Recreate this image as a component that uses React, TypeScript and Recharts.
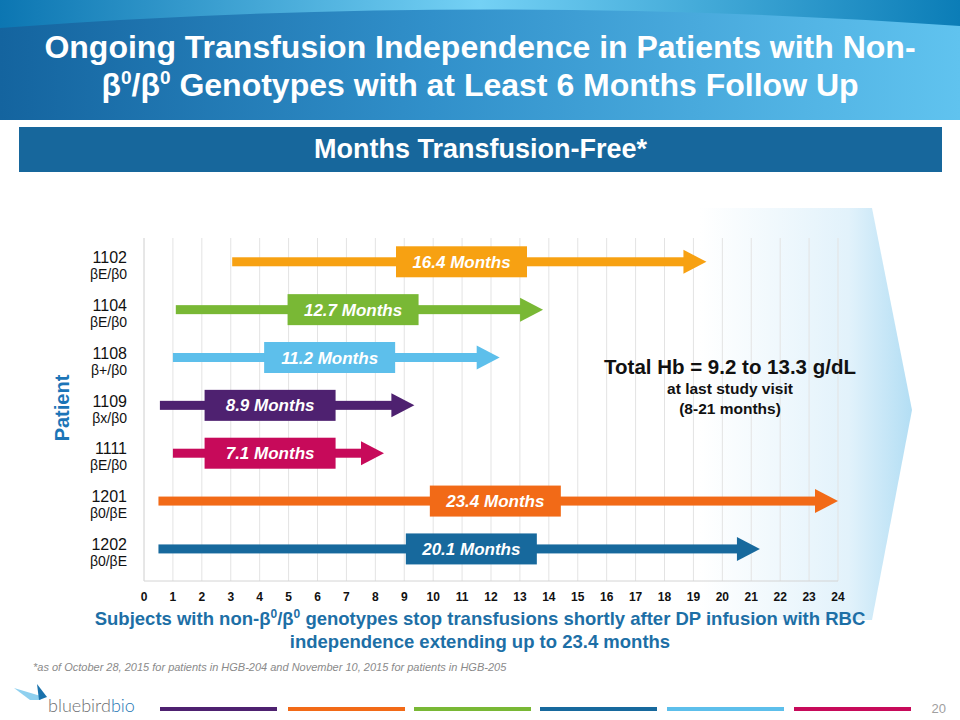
import React from 'react'
import { BarChart, Bar, XAxis, YAxis, CartesianGrid } from 'recharts'

// patients, top to bottom
const patients = ['1102', '1104', '1108', '1109', '1111', '1201', '1202']
const genotypes = ['βE/β0', 'βE/β0', 'β+/β0', 'βx/β0', 'βE/β0', 'β0/βE', 'β0/βE']
// month the arrow starts / month the arrow tip reaches
const startMonth = [3.05, 1.1, 1.0, 0.55, 1.0, 0.5, 0.5]
const endMonth = [19.45, 13.8, 12.3, 9.35, 8.3, 24.0, 21.3]
const monthsFree = [16.4, 12.7, 11.2, 8.9, 7.1, 23.4, 20.1]
const monthTicks = [0, 1, 2, 3, 4, 5, 6, 7, 8, 9, 10, 11, 12, 13, 14, 15, 16, 17, 18, 19, 20, 21, 22, 23, 24]

// styling
const arrowColors = ['#f7a112', '#79b835', '#5dbfeb', '#4e2170', '#c70a5a', '#f26a17', '#17699d']
const labelCenter = [10.98, 7.23, 6.42, 4.36, 4.36, 12.15, 11.32] // where each "Months" box sits
const font = 'Arial, "Liberation Sans", sans-serif'

const rows = patients.map((p, i) => ({
  patient: p,
  range: [startMonth[i], endMonth[i]],
  i,
}))

function ArrowShape(props: any) {
  const { x, y, width, height } = props
  const i = props.payload?.i ?? props.index
  const color = arrowColors[i]
  const cy = y + height / 2
  const tip = x + width
  const headLen = 23
  const headH = 24
  const shaft = 9
  const boxW = 131
  const boxH = 31
  const pxPerMonth = width / (endMonth[i] - startMonth[i])
  const cx = x + (labelCenter[i] - startMonth[i]) * pxPerMonth
  return (
    <g>
      <rect x={x} y={cy - shaft / 2} width={width - headLen + 1} height={shaft} fill={color} />
      <polygon
        points={`${tip - headLen},${cy - headH / 2} ${tip},${cy} ${tip - headLen},${cy + headH / 2}`}
        fill={color}
      />
      <rect x={cx - boxW / 2} y={cy - boxH / 2} width={boxW} height={boxH} fill={color} />
      <text
        x={cx}
        y={cy}
        dy="0.36em"
        textAnchor="middle"
        fill="#fff"
        fontFamily={font}
        fontWeight={700}
        fontStyle="italic"
        fontSize={17}
      >
        {monthsFree[i]} Months
      </text>
    </g>
  )
}

function PatientTick(props: any) {
  const { x, y, payload } = props
  const i = patients.indexOf(payload.value)
  return (
    <g fontFamily={font}>
      <text x={x} y={y + 1} textAnchor="end" fontSize={16} fill="#111">
        {payload.value}
      </text>
      <text x={x} y={y + 17} textAnchor="end" fontSize={14} fill="#111">
        {genotypes[i]}
      </text>
    </g>
  )
}

function Backdrop() {
  return (
    <svg width={960} height={720} style={{ position: 'absolute', left: 0, top: 0 }}>
      <defs>
        <linearGradient id="banner" x1="0" y1="0" x2="1" y2="0">
          <stop offset="0" stopColor="#14649f" />
          <stop offset="0.45" stopColor="#3190ca" />
          <stop offset="1" stopColor="#60c3ef" />
        </linearGradient>
        <linearGradient id="arc" x1="0" y1="0" x2="1" y2="0">
          <stop offset="0" stopColor="#0c76b2" />
          <stop offset="0.5" stopColor="#74d1f5" />
          <stop offset="1" stopColor="#0b7db7" />
        </linearGradient>
        <linearGradient id="chev" gradientUnits="userSpaceOnUse" x1="700" y1="0" x2="912" y2="0">
          <stop offset="0" stopColor="#ffffff" />
          <stop offset="0.7" stopColor="#e2f2fb" />
          <stop offset="1" stopColor="#b3def4" />
        </linearGradient>
      </defs>
      <rect x={0} y={0} width={960} height={120} fill="url(#banner)" />
      <path d="M0,0 H960 V26 Q480,-8 0,28 Z" fill="url(#arc)" />
      <rect x={19} y={127} width={923} height={45} fill="#17679c" />
      <polygon points="140,208 872,208 912,410 872,620 140,620" fill="url(#chev)" />
      {/* footer logo */}
      <polygon points="14,688 44,697 40,700 30,700" fill="#8fd0ef" />
      <polygon points="37,684 47,697 39,700" fill="#1a72ac" />
      {[['#4e2170', 160], ['#f26a17', 288], ['#79b835', 414], ['#17699d', 540], ['#5dbfeb', 667], ['#c70a5a', 794]].map(
        ([c, x]) => (
          <rect key={c as string} x={x as number} y={707} width={117} height={4} fill={c as string} />
        )
      )}
    </svg>
  )
}

export default function App() {
  return (
    <div style={{ position: 'absolute', left: 0, top: 0, width: 960, height: 720, background: '#fff', fontFamily: font }}>
      <Backdrop />
      <div
        style={{
          position: 'absolute',
          left: 0,
          top: 28,
          width: 960,
          textAlign: 'center',
          color: '#fff',
          fontWeight: 700,
          fontSize: 32,
          lineHeight: '38px',
        }}
      >
        Ongoing Transfusion Independence in Patients with Non-
        <br />
        β<sup style={{ fontSize: 19, lineHeight: 0 }}>0</sup>/β<sup style={{ fontSize: 19, lineHeight: 0 }}>0</sup>{' '}
        Genotypes with at Least 6 Months Follow Up
      </div>
      <div
        style={{
          position: 'absolute',
          left: 19,
          top: 127,
          width: 923,
          height: 45,
          lineHeight: '45px',
          textAlign: 'center',
          color: '#fff',
          fontWeight: 700,
          fontSize: 27,
        }}
      >
        Months Transfusion-Free*
      </div>
      <div style={{ position: 'absolute', left: 0, top: 0 }}>
        <BarChart
          width={960}
          height={720}
          data={rows}
          layout="vertical"
          margin={{ top: 238, right: 122, bottom: 109, left: 44 }}
        >
          <CartesianGrid horizontal={false} stroke="#e3e3e3" />
          <XAxis
            type="number"
            domain={[0, 24]}
            ticks={monthTicks}
            interval={0}
            height={30}
            tickLine={false}
            tickMargin={5}
            axisLine={{ stroke: '#d4d4d4' }}
            tick={{ fontSize: 12, fontWeight: 700, fill: '#111', fontFamily: font }}
          />
          <YAxis
            type="category"
            dataKey="patient"
            width={100}
            tickLine={false}
            tickSize={0}
            tickMargin={17}
            axisLine={{ stroke: '#dcdcdc' }}
            padding={{ top: 0, bottom: 8 }}
            tick={<PatientTick />}
          />
          <Bar dataKey="range" shape={<ArrowShape />} isAnimationActive={false} />
        </BarChart>
      </div>
      <svg width={960} height={720} style={{ position: 'absolute', left: 0, top: 0, pointerEvents: 'none' }}>
        <text
          x={62}
          y={408}
          transform="rotate(-90 62 408)"
          textAnchor="middle"
          dy="0.36em"
          fill="#1c75b7"
          fontFamily={font}
          fontWeight={700}
          fontSize={20}
        >
          Patient
        </text>
        <text x={730} y={374} textAnchor="middle" fontFamily={font} fontWeight={700} fontSize={20.5} fill="#111">
          Total Hb = 9.2 to 13.3 g/dL
        </text>
        <text x={730} y={394} textAnchor="middle" fontFamily={font} fontWeight={700} fontSize={15.5} fill="#111">
          at last study visit
        </text>
        <text x={730} y={414} textAnchor="middle" fontFamily={font} fontWeight={700} fontSize={15.5} fill="#111">
          (8-21 months)
        </text>
        <text x={48} y={712} fontFamily="Lato, sans-serif" fontWeight={300} fontSize={18}>
          <tspan fill="#6d6e71">bluebird</tspan>
          <tspan fill="#1f77b4">bio</tspan>
        </text>
        <text x={946} y={713} textAnchor="end" fontFamily={font} fontSize={13} fill="#a0a0a0">
          20
        </text>
      </svg>
      <div
        style={{
          position: 'absolute',
          left: 0,
          top: 607,
          width: 960,
          textAlign: 'center',
          color: '#1d6fa6',
          fontWeight: 700,
          fontSize: 18.5,
          lineHeight: '23px',
        }}
      >
        Subjects with non-β<sup style={{ fontSize: 12, lineHeight: 0 }}>0</sup>/β
        <sup style={{ fontSize: 12, lineHeight: 0 }}>0</sup> genotypes stop transfusions shortly after DP infusion with RBC
        <br />
        independence extending up to 23.4 months
      </div>
      <div
        style={{
          position: 'absolute',
          left: 33,
          top: 661,
          fontStyle: 'italic',
          color: '#8a8a8a',
          fontSize: 11,
        }}
      >
        *as of October 28, 2015 for patients in HGB-204 and November 10, 2015 for patients in HGB-205
      </div>
    </div>
  )
}
